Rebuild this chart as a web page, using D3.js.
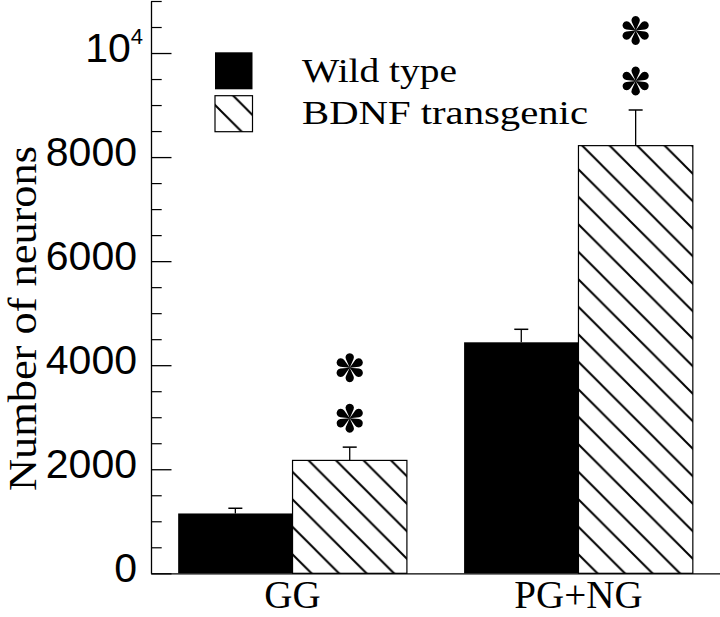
<!DOCTYPE html>
<html>
<head>
<meta charset="utf-8">
<script src="https://cdn.jsdelivr.net/npm/d3@7"></script>
<style>
  html, body { margin: 0; padding: 0; background: #fff; }
  svg { display: block; }
</style>
</head>
<body>
<svg id="chart" width="720" height="617"></svg>
<script>
// ---- data ----
const categories = ["GG", "PG+NG"];
const seriesNames = ["Wild type", "BDNF transgenic"];
const wildValues = [1150, 4440];
const wildErrors = [100, 250];
const bdnfValues = [2170, 8220];
const bdnfErrors = [255, 685];
const bdnfAsterisks = [2, 2];
const majorTicks = [0, 2000, 4000, 6000, 8000, 10000];
const tickLabels = ["0", "2000", "4000", "6000", "8000", "10^4"];
const minorTicks = [500, 1000, 1500, 2500, 3000, 3500, 4500, 5000, 5500, 6500, 7000, 7500,
                    8500, 9000, 9500, 10500, 11000];
const yTitle = "Number of neurons";

// ---- setup ----
const svg = d3.select("#chart");
svg.append("rect").attr("width", 720).attr("height", 617).attr("fill", "#fff");

const serif = "'Liberation Serif', 'Times New Roman', serif";
const sans = "'Liberation Sans', Arial, Helvetica, sans-serif";

const y = d3.scaleLinear().domain([0, 11000]).range([573.3, 1]);
const x0 = d3.scaleBand().domain(categories).range([151, 720])
  .paddingInner(0.2).paddingOuter(0.095);
const x1 = d3.scaleBand().domain(seriesNames).range([0, x0.bandwidth()]);

// hatch pattern
const defs = svg.append("defs");
const s = 27.5;
const pat = defs.append("pattern").attr("id", "hatch")
  .attr("patternUnits", "userSpaceOnUse")
  .attr("width", s).attr("height", s);
pat.append("rect").attr("width", s).attr("height", s).attr("fill", "#fff");
pat.append("path")
  .attr("d", `M-3,-3L${s + 3},${s + 3}M${s - 3},-3L${s + 3},3M-3,${s - 3}L3,${s + 3}`)
  .attr("stroke", "#000").attr("stroke-width", 2).attr("fill", "none");

const rows = categories.map((c, i) => [
  { cat: c, s: seriesNames[0], v: wildValues[i], e: wildErrors[i], n: 0 },
  { cat: c, s: seriesNames[1], v: bdnfValues[i], e: bdnfErrors[i], n: bdnfAsterisks[i] }
]);

const groups = svg.append("g").selectAll("g").data(rows).join("g")
  .attr("transform", d => `translate(${x0(d[0].cat)},0)`);

// error bars (upper only)
groups.selectAll("g.err").data(d => d).join("g").attr("class", "err").each(function (d) {
  const g = d3.select(this);
  const cx = x1(d.s) + x1.bandwidth() / 2;
  g.append("line").attr("x1", cx).attr("x2", cx).attr("y1", y(d.v)).attr("y2", y(d.v + d.e))
    .attr("stroke", "#000").attr("stroke-width", 1.3);
  g.append("line").attr("x1", cx - 7).attr("x2", cx + 7).attr("y1", y(d.v + d.e)).attr("y2", y(d.v + d.e))
    .attr("stroke", "#000").attr("stroke-width", 1.5);
});

// bars
groups.selectAll("rect.bar").data(d => d).join("rect").attr("class", "bar")
  .attr("x", d => x1(d.s))
  .attr("y", d => y(d.v))
  .attr("width", x1.bandwidth())
  .attr("height", d => y(0) - y(d.v))
  .attr("fill", d => d.s === seriesNames[0] ? "#000" : "url(#hatch)")
  .attr("stroke", "#000")
  .attr("stroke-width", d => d.s === seriesNames[0] ? 0 : 1.2);

// asterisk glyph (six teardrop petals)
function asteriskPath(R) {
  const r = R * 0.29, d = R - r;
  const L = Math.sqrt(d * d - r * r), th = Math.asin(r / d);
  let p = "";
  for (let k = 0; k < 6; k++) {
    const a = -Math.PI / 2 + k * Math.PI / 3;
    const p1 = [L * Math.cos(a - th), L * Math.sin(a - th)];
    const p2 = [L * Math.cos(a + th), L * Math.sin(a + th)];
    p += `M0,0L${p1[0]},${p1[1]}A${r},${r} 0 1 1 ${p2[0]},${p2[1]}Z`;
  }
  return p;
}
groups.selectAll("g.sig").data(d => d.filter(e => e.n > 0)).join("g").attr("class", "sig")
  .each(function (d) {
    const cx = x1(d.s) + x1.bandwidth() / 2;
    const base = y(d.v + d.e) - 29;
    for (let k = 0; k < d.n; k++) {
      d3.select(this).append("path")
        .attr("d", asteriskPath(14.5))
        .attr("transform", `translate(${cx},${base - k * 50.5})`)
        .attr("fill", "#000");
    }
  });

// y axis (major)
const yAxis = d3.axisLeft(y).tickValues(majorTicks)
  .tickSizeInner(-20.5).tickSizeOuter(0).tickPadding(14)
  .tickFormat((d, i) => tickLabels[i].includes("^") ? "" : tickLabels[i]);
const yg = svg.append("g").attr("transform", "translate(151,0)").call(yAxis);
yg.select(".domain").attr("stroke", "#000").attr("stroke-width", 1.3);
yg.selectAll(".tick line").attr("stroke", "#000").attr("stroke-width", 1.3);
yg.selectAll(".tick text").attr("font-family", sans).attr("font-size", 41)
  .attr("fill", "#000").attr("dy", 0).attr("y", 8);
yg.selectAll(".tick text").filter((d, i) => tickLabels[i].includes("^")).each(function (d, i) {
  const parts = tickLabels[majorTicks.indexOf(d)].split("^");
  const t = d3.select(this).attr("x", -8);
  t.append("tspan").text(parts[0]);
  t.append("tspan").attr("font-size", 22).attr("dy", -18).text(parts[1]);
});

// y axis (minor)
const yMinor = d3.axisLeft(y).tickValues(minorTicks)
  .tickSizeInner(-10.7).tickSizeOuter(0).tickFormat("");
const ym = svg.append("g").attr("transform", "translate(151,0)").call(yMinor);
ym.select(".domain").remove();
ym.selectAll(".tick line").attr("stroke", "#000").attr("stroke-width", 1.2);

// x axis
const xAxis = d3.axisBottom(x0).tickSize(0).tickSizeOuter(0);
const xg = svg.append("g").attr("transform", `translate(0,${y(0)})`).call(xAxis);
xg.select(".domain").attr("stroke", "#000").attr("stroke-width", 1.3);
xg.selectAll(".tick text").attr("font-family", serif).attr("font-size", 39)
  .attr("fill", "#000").attr("y", 35).attr("dy", 0);

// y title
svg.append("text")
  .attr("transform", "translate(36,318.5) rotate(-90)")
  .attr("text-anchor", "middle")
  .attr("font-family", serif).attr("font-size", 40).attr("fill", "#000")
  .attr("textLength", 345).attr("lengthAdjust", "spacingAndGlyphs")
  .text(yTitle);

// legend
const legend = svg.append("g");
const legendRows = [
  { name: seriesNames[0], fill: "#000", stroke: 0, y: 52.3, h: 37, base: 82, len: 155 },
  { name: seriesNames[1], fill: "url(#hatch)", stroke: 1.2, y: 95.7, h: 36, base: 124, len: 286 }
];
legendRows.forEach(r => {
  legend.append("rect").attr("x", 215).attr("y", r.y).attr("width", 37.5).attr("height", r.h)
    .attr("fill", r.fill).attr("stroke", "#000").attr("stroke-width", r.stroke);
  legend.append("text").attr("x", 302).attr("y", r.base)
    .attr("font-family", serif).attr("font-size", 33).attr("fill", "#000")
    .attr("textLength", r.len).attr("lengthAdjust", "spacingAndGlyphs")
    .text(r.name);
});
</script>
</body>
</html>
